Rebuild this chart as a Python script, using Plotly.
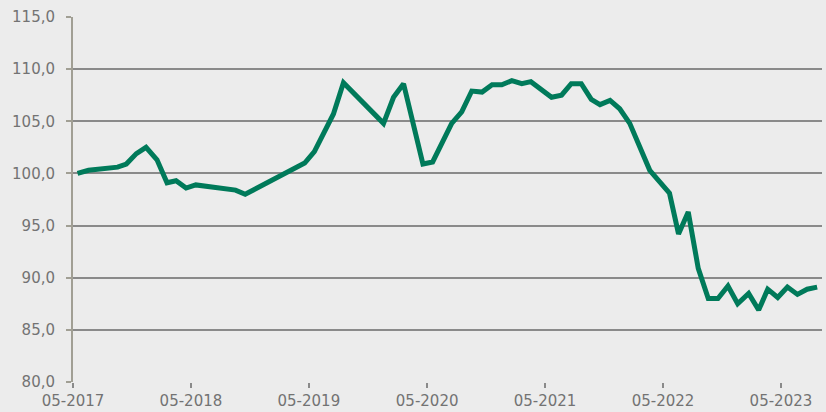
import plotly.graph_objects as go

dates = [
    "2017-05-15", "2017-06-18", "2017-09-16", "2017-10-13", "2017-11-13", "2017-12-13",
    "2018-01-16", "2018-02-16", "2018-03-16", "2018-04-16", "2018-05-16", "2018-09-16",
    "2018-10-16", "2019-04-18", "2019-05-18", "2019-07-16", "2019-08-16", "2019-12-18",
    "2020-01-18", "2020-02-18", "2020-04-18", "2020-05-18", "2020-07-16", "2020-08-16",
    "2020-09-16", "2020-10-18", "2020-11-18", "2020-12-18", "2021-01-18", "2021-02-18",
    "2021-03-18", "2021-05-21", "2021-06-21", "2021-07-21", "2021-08-21", "2021-09-21",
    "2021-10-18", "2021-11-18", "2021-12-18", "2022-01-18", "2022-03-21", "2022-04-21",
    "2022-05-21", "2022-06-18", "2022-07-18", "2022-08-18", "2022-09-18", "2022-10-18",
    "2022-11-18", "2022-12-18", "2023-01-21", "2023-02-21", "2023-03-21", "2023-04-21",
    "2023-05-21", "2023-06-21", "2023-07-21", "2023-08-21",
]
values = [
    100.0, 100.3, 100.6, 100.9, 101.9, 102.5,
    101.3, 99.1, 99.3, 98.6, 98.9, 98.4,
    98.0, 101.0, 102.1, 105.7, 108.7, 104.8,
    107.3, 108.6, 100.9, 101.1, 104.8, 105.9,
    107.9, 107.8, 108.5, 108.5, 108.9, 108.6,
    108.8, 107.3, 107.5, 108.6, 108.6, 107.1,
    106.6, 107.0, 106.2, 104.8, 100.3, 99.2,
    98.1, 94.2, 96.3, 90.9, 88.0, 88.0,
    89.2, 87.5, 88.5, 86.9, 88.9, 88.1,
    89.1, 88.4, 88.9, 89.1,
]
tick_dates = ["2017-05-01", "2018-05-01", "2019-05-01", "2020-05-01",
              "2021-05-01", "2022-05-01", "2023-05-01"]
tick_labels = ["05-2017", "05-2018", "05-2019", "05-2020", "05-2021", "05-2022", "05-2023"]
y_ticks = [80, 85, 90, 95, 100, 105, 110, 115]
y_labels = ["80,0", "85,0", "90,0", "95,0", "100,0", "105,0", "110,0", "115,0"]

fig = go.Figure()
fig.add_trace(go.Scatter(
    x=dates, y=values, mode="lines",
    line=dict(color="#007a5a", width=5),
    hoverinfo="skip", showlegend=False,
))

font = dict(family="DejaVu Sans, Verdana, sans-serif", size=15, color="#737373")

fig.update_layout(
    width=826, height=412,
    margin=dict(l=73, r=4, t=17, b=30, autoexpand=False),
    paper_bgcolor="#ececec", plot_bgcolor="#ececec",
    font=font,
    xaxis=dict(
        range=["2017-05-01", "2023-09-05"],
        tickvals=tick_dates, ticktext=tick_labels,
        showgrid=False, zeroline=False,
        ticks="outside", ticklen=5, tickcolor="#8a8a8a", tickwidth=2,
        showline=False, automargin=False,
        tickfont=font,
    ),
    yaxis=dict(
        range=[80, 115],
        tickvals=y_ticks, ticktext=y_labels,
        showgrid=True, gridcolor="#8a8a8a", gridwidth=2,
        zeroline=False,
        ticks="outside", ticklen=5, tickcolor="#a19f94", tickwidth=2,
        showline=True, linecolor="#a19f94", linewidth=2,
        automargin=False, ticklabelstandoff=8,
        tickfont=font,
    ),
)

fig.write_html(
    "out.html",
    config={"displayModeBar": False},
    post_script="document.body.style.margin='0';document.body.style.background='#ececec';",
)
